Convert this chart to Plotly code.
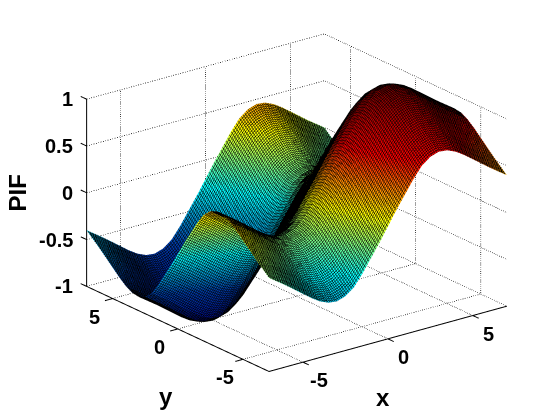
import plotly.graph_objects as go

x_vals = [i / 2 for i in range(-14, 15)]
y_vals = x_vals
# PIF contribution along each axis
x_profile = [-.2, -.265, -.33, -.40, -.47, -.54, -.60, -.64, -.65, -.62, -.55, -.43, -.29, -.15,
             0, .15, .29, .43, .55, .62, .65, .64, .60, .54, .47, .40, .33, .265, .2]
y_profile = [.2, .265, .33, .40, .47, .54, .60, .64, .65, .62, .55, .43, .29, .15,
             0, -.15, -.29, -.43, -.55, -.62, -.65, -.64, -.60, -.54, -.47, -.40, -.33, -.265, -.2]
pif = [[xp + yp for xp in x_profile] for yp in y_profile]

x_ticks = [-5, 0, 5]
y_ticks = [-5, 0, 5]
z_ticks = [-1, -0.5, 0, 0.5, 1]
z_tick_text = ["-1", "-0.5", "0", "0.5", "1"]
LO, HI = -7, 7
ZLO, ZHI = -1, 1
MESH = 0.1
FONT = "Liberation Sans"

fig = go.Figure()
fig.add_trace(go.Surface(
    x=x_vals, y=y_vals, z=pif, colorscale="Jet", cmin=-1.3, cmax=1.3, showscale=False,
    hoverinfo="skip",
    lighting=dict(ambient=1, diffuse=0, specular=0, roughness=1, fresnel=0),
    contours=dict(
        x=dict(show=True, start=LO, end=HI, size=MESH, color="black", width=1, highlight=False),
        y=dict(show=True, start=LO, end=HI, size=MESH, color="black", width=1, highlight=False),
        z=dict(highlight=False),
    ),
))


def seg(xs, ys, zs, dash="solid", width=2):
    fig.add_trace(go.Scatter3d(x=xs, y=ys, z=zs, mode="lines", hoverinfo="skip", showlegend=False,
                               line=dict(color="black", width=width, dash=dash)))


# dotted grid
for z in z_ticks:
    seg([LO, HI, HI], [HI, HI, LO], [z, z, z], "dot", 1.5)
for x in x_ticks:
    seg([x, x, x], [LO, HI, HI], [ZLO, ZLO, ZHI], "dot", 1.5)
for y in y_ticks:
    seg([LO, HI, HI], [y, y, y], [ZLO, ZLO, ZHI], "dot", 1.5)
seg([LO, HI, HI], [HI, HI, LO], [ZLO, ZLO, ZLO], "dot", 1.5)
# solid axes and ticks
seg([LO, LO], [HI, HI], [ZLO, ZHI])
seg([LO, LO, HI], [HI, LO, LO], [ZLO, ZLO, ZLO])
for z in z_ticks:
    seg([LO, LO], [HI, HI + 0.45], [z, z])
for x in x_ticks:
    seg([x, x], [LO, LO - 0.45], [ZLO, ZLO])
for y in y_ticks:
    seg([LO, LO - 0.45], [y, y], [ZLO, ZLO])

anns = []
tick_font = dict(family=FONT, size=20, color="black")
title_font = dict(family=FONT, size=24, color="black")
for x in x_ticks:
    anns.append(dict(x=x, y=LO, z=ZLO, text=f"<b>{x}</b>", showarrow=False, font=tick_font, xshift=16, yshift=-18))
for y in y_ticks:
    anns.append(dict(x=LO, y=y, z=ZLO, text=f"<b>{y}</b>", showarrow=False, font=tick_font, xshift=-18, yshift=-18))
for z, t in zip(z_ticks, z_tick_text):
    anns.append(dict(x=LO, y=HI, z=z, text=f"<b>{t}</b>", showarrow=False, font=tick_font, xanchor="right", xshift=-12))
anns.append(dict(x=0, y=LO, z=ZLO, text="<b>x</b>", showarrow=False, font=title_font, xshift=-5, yshift=-59))
anns.append(dict(x=LO, y=0, z=ZLO, text="<b>y</b>", showarrow=False, font=title_font, xshift=-12, yshift=-68))
anns.append(dict(x=LO, y=HI, z=0, text="<b>PIF</b>", showarrow=False, font=title_font, textangle=-90, xshift=-69))

hidden = dict(visible=False, showgrid=False, zeroline=False, showticklabels=False, showspikes=False)
fig.update_layout(
    width=560, height=420, margin=dict(l=0, r=0, t=0, b=0), paper_bgcolor="white",
    showlegend=False,
    scene=dict(
        xaxis=dict(range=[-10, 10], **hidden),
        yaxis=dict(range=[-10, 10], **hidden),
        zaxis=dict(range=[-1.4, 1.4], **hidden),
        aspectmode="manual",
        aspectratio=dict(x=2.0386, y=2.0386, z=1.3365),
        camera=dict(
            projection=dict(type="orthographic"),
            up=dict(x=0, y=0, z=1),
            center=dict(x=-0.033, y=0.025, z=-0.078),
            eye=dict(x=-0.797 - 0.033, y=-1.039 + 0.025, z=0.502 - 0.078),
        ),
        annotations=anns,
        domain=dict(x=[0, 1], y=[0, 1]),
    ),
)
fig.write_html("out.html")
